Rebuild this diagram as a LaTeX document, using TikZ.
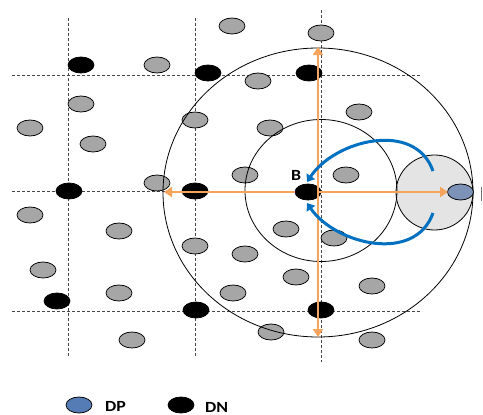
\documentclass[tikz,border=0pt]{standalone}
\usepackage{fontspec}
\setmainfont{Carlito}
\usetikzlibrary{shapes.geometric,arrows.meta}
\definecolor{dotgray}{RGB}{166,166,166}
\definecolor{arrorange}{RGB}{246,163,92}
\definecolor{arcblue}{RGB}{0,112,192}
\definecolor{lightfill}{RGB}{228,228,228}
\definecolor{dpblue}{RGB}{124,146,182}
\definecolor{legblue}{RGB}{86,124,182}
\newcommand{\widetxt}[1]{\scalebox{1.15}[1]{#1}}
\begin{document}
\begin{tikzpicture}[x=1pt,y=-1pt,
  gridline/.style={dash pattern=on 3pt off 2pt, line width=0.75pt, draw=black!72},
  gdot/.style={ellipse, draw=black, line width=0.75pt, fill=dotgray, minimum width=26pt, minimum height=16pt, inner sep=0pt},
  bdot/.style={gdot, fill=black},
  ring/.style={draw=black, line width=0.8pt},
  oarrow/.style={draw=arrorange, line width=2.9pt, -{Triangle[length=8pt,width=10pt]}},
  barrow/.style={draw=arcblue, line width=3pt, -{Triangle[length=7pt,width=10pt]}},
  lbl/.style={font=\bfseries\fontsize{15.5}{15.5}\selectfont, inner sep=0pt}
]
\useasboundingbox (0,0) rectangle (483,415);
% grid
\draw[gridline] (68,18) -- (68,358);
\draw[gridline] (195,18) -- (195,358);
\draw[gridline] (321.5,10) -- (321.5,362);
\draw[gridline] (12,75) -- (422,75);
\draw[gridline] (12,191) -- (422,191);
\draw[gridline] (12,311) -- (422,311);
% gray dots
\node[gdot] (g1) at (232,26) {};
\node[gdot] (g2) at (321,33) {};
\node[gdot] (g3) at (157,65) {};
\node[gdot] (g4) at (258,81) {};
\node[gdot] (g5) at (81,104) {};
\node[gdot] (g6) at (195,120) {};
\node[gdot] (g7) at (359,112) {};
\node[gdot] (g8) at (30,128) {};
\node[gdot] (g9) at (270,128) {};
\node[gdot] (g10) at (93,144) {};
\node[gdot] (g11) at (245,175) {};
\node[gdot] (g12) at (346,175) {};
\node[gdot] (g13) at (157,183) {};
\node[gdot] (g14) at (30,215) {};
\node[gdot] (g15) at (119,231) {};
\node[gdot] (g16) at (286,229) {};
\node[gdot] (g17) at (334,238) {};
\node[gdot] (g18) at (195,246) {};
\node[gdot] (g19) at (245,254) {};
\node[gdot] (g20) at (43,270) {};
\node[gdot] (g21) at (296,277) {};
\node[gdot] (g22) at (372,286) {};
\node[gdot] (g23) at (119,293) {};
\node[gdot] (g24) at (233,293) {};
\node[gdot] (g25) at (271,332) {};
\node[gdot] (g26) at (132,340) {};
\node[gdot] (g27) at (372,340) {};
% black dots
\node[bdot] (b1) at (81,65) {};
\node[bdot] (b2) at (208,73) {};
\node[bdot] (b3) at (309,73) {};
\node[bdot] (b4) at (69,191) {};
\node[bdot] (b5) at (195,191) {};
\node[bdot] (B) at (308,192) {};
\node[bdot] (b6) at (57,301) {};
\node[bdot] (b7) at (196,310) {};
\node[bdot] (b8) at (321,310) {};
% circles
\filldraw[ring, fill=lightfill] (434.5,192.5) ellipse [x radius=38.5pt, y radius=37.5pt];
\draw[ring] (318,192.5) ellipse [x radius=155pt, y radius=144.5pt];
\draw[ring] (321,190.5) ellipse [x radius=76pt, y radius=71pt];
% DP
\node[gdot, fill=dpblue] (dp) at (460.5,192) {};
% orange arrows
\coordinate (c) at (318,192);
\coordinate (tU) at (318,47);
\coordinate (tD) at (318,337);
\coordinate (tL) at (164,192);
\coordinate (tR) at (448,192);
\draw[oarrow] (B.west) -- (tL);
\draw[oarrow] (c) -- (tR);
\draw[oarrow] (c) -- (tU);
\draw[oarrow] (c) -- (tD);
% blue arcs
\coordinate (u1) at (433,171);
\coordinate (u2) at (307,182);
\coordinate (l1) at (433,213);
\coordinate (l2) at (307,203);
\draw[barrow] (u1) .. controls (415,120) and (335,140) .. (u2);
\draw[barrow] (l1) .. controls (415,264) and (335,244) .. (l2);
% labels
\node[lbl] (lB) at (296,175.5) {\widetxt{B}};
\draw[black!55, line width=0.8pt] (481,187) -- (481,201);
% legend
\node[gdot, fill=legblue] (ldp) at (79,405) {};
\node[lbl, anchor=west] (tDP) at (105,406.5) {\widetxt{DP}};
\node[bdot] (ldn) at (181,405) {};
\node[lbl, anchor=west] (tDN) at (205,407) {\widetxt{DN}};
\end{tikzpicture}
\end{document}
